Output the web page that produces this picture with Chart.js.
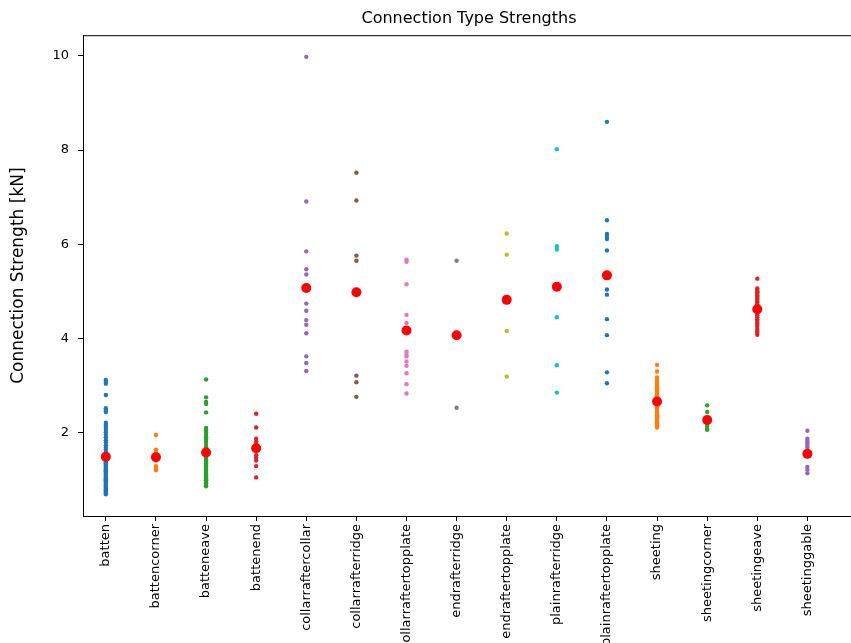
<!DOCTYPE html>
<html>
<head>
<meta charset="utf-8">
<title>Connection Type Strengths</title>
<script src="https://cdn.jsdelivr.net/npm/chart.js@4.4.0/dist/chart.umd.min.js"></script>
<style>
  html, body { margin: 0; padding: 0; background: #fff; overflow: hidden; }
  #wrap { width: 860px; height: 643px; }
</style>
</head>
<body>
<div id="wrap"><canvas id="strengthChart" width="860" height="643"></canvas></div>
<script>
"use strict";

// connection types along the x axis
const categories = ['batten', 'battencorner', 'batteneave', 'battenend', 'collarraftercollar',
    'collarrafterridge', 'collarraftertopplate', 'endrafterridge', 'endraftertopplate',
    'plainrafterridge', 'plainraftertopplate', 'sheeting', 'sheetingcorner', 'sheetingeave',
    'sheetinggable'];

// measured strengths [kN] per connection type
const batten = [3.12, 3.08, 3.04, 2.80, 2.52, 2.47, 2.44,
    2.21, 2.17, 2.12, 2.06, 2.01, 1.95, 1.90, 1.84, 1.79, 1.73, 1.68, 1.63, 1.58, 1.54, 1.50,
    1.47, 1.45, 1.42, 1.40, 1.37, 1.35, 1.32, 1.30, 1.27, 1.25, 1.22, 1.20, 1.18, 1.15, 1.13,
    1.10, 1.08, 1.06, 1.03, 1.01, 0.99, 0.96, 0.94, 0.91, 0.89, 0.87, 0.85, 0.83, 0.81, 0.79,
    0.77, 0.75, 0.73, 0.71, 0.69];
const battencorner = [1.95, 1.64, 1.59, 1.50, 1.45, 1.41, 1.29, 1.25, 1.20];
const batteneave = [3.13, 2.75, 2.65, 2.61, 2.43,
    2.10, 2.05, 2.00, 1.95, 1.90, 1.85, 1.80, 1.74, 1.69, 1.64, 1.59, 1.55, 1.51, 1.47, 1.43,
    1.39, 1.35, 1.31, 1.27, 1.23, 1.19, 1.15, 1.11, 1.10, 1.07, 1.03, 1.00, 0.99, 0.95, 0.93,
    0.92, 0.89, 0.86];
const battenend = [2.40, 2.11, 1.87, 1.82, 1.76, 1.70, 1.65, 1.52, 1.47, 1.41, 1.29, 1.05];
const collarraftercollar = [9.98, 6.91, 5.85, 5.47, 5.36, 4.74, 4.59, 4.39, 4.29, 4.11, 3.62, 3.48, 3.31];
const collarrafterridge = [7.52, 6.93, 5.76, 5.65, 3.21, 3.07, 2.76];
const collarraftertopplate = [5.67, 5.63, 5.15, 4.50, 4.33, 3.72, 3.67, 3.62, 3.51, 3.42, 3.26, 3.03, 2.83];
const endrafterridge = [5.65, 2.53];
const endraftertopplate = [6.23, 5.78, 4.16, 3.19];
const plainrafterridge = [8.02, 5.96, 5.89, 4.45, 3.43, 2.85];
const plainraftertopplate = [8.60, 6.51, 6.22, 6.16, 6.11, 5.87, 5.04, 4.93, 4.41, 4.07, 3.28, 3.05];
const sheeting = [3.44, 3.30, 3.17, 3.12, 3.08, 3.04, 3.00, 2.96, 2.92, 2.88, 2.84, 2.80,
    2.77, 2.74, 2.71, 2.68, 2.65, 2.62, 2.59, 2.56, 2.53, 2.50, 2.48, 2.45, 2.42, 2.40, 2.37,
    2.35, 2.32, 2.30, 2.27, 2.25, 2.22, 2.20, 2.17, 2.15, 2.13, 2.11];
const sheetingcorner = [2.58, 2.44, 2.30, 2.25, 2.17, 2.13, 2.08, 2.06];
const sheetingeave = [5.27, 5.06, 5.03, 5.00, 4.98, 4.95, 4.92, 4.89, 4.86, 4.83, 4.79,
    4.76, 4.72, 4.69, 4.65, 4.61, 4.57, 4.53, 4.49, 4.45, 4.41, 4.37, 4.33, 4.29, 4.25, 4.20,
    4.16, 4.12, 4.08];
const sheetinggable = [2.04, 1.87, 1.82, 1.77, 1.72, 1.68, 1.60, 1.50, 1.27, 1.21, 1.14];

// mean strength per type (red markers)
const means = [1.49, 1.48, 1.58, 1.67, 5.07, 4.98, 4.17, 4.07, 4.82, 5.10, 5.34, 2.66, 2.27, 4.62, 1.55];

const yTicks = [2, 4, 6, 8, 10];

const series = [batten, battencorner, batteneave, battenend, collarraftercollar,
    collarrafterridge, collarraftertopplate, endrafterridge, endraftertopplate,
    plainrafterridge, plainraftertopplate, sheeting, sheetingcorner, sheetingeave,
    sheetinggable];

// matplotlib tab10 farger
const tab10 = ['#1f77b4', '#ff7f0e', '#2ca02c', '#d62728', '#9467bd',
    '#8c564b', '#e377c2', '#7f7f7f', '#bcbd22', '#17becf'];

const fontFamily = '"DejaVu Sans", sans-serif';

// ett dataset per kategori + medelvarden
let datasets = series.map((values, i) => ({
    label: categories[i],
    data: values.map(v => ({ x: i, y: v })),
    backgroundColor: tab10[i % 10],
    borderWidth: 0,
    pointRadius: 2.2,
    order: 1
}));

datasets.push({
    label: 'mean',
    data: means.map((v, i) => ({ x: i, y: v })),
    backgroundColor: '#ff0000',
    borderWidth: 0,
    pointRadius: 5,
    order: 0
});

// ram runt diagramytan
const framePlugin = {
    id: 'frame',
    afterDraw(chart) {
        const { ctx, chartArea } = chart;
        ctx.save();
        ctx.strokeStyle = '#000';
        ctx.lineWidth = 1;
        ctx.strokeRect(chartArea.left + 0.5, chartArea.top + 0.5,
            chartArea.right - chartArea.left, chartArea.bottom - chartArea.top);
        ctx.restore();
    }
};

const chartEl = document.getElementById('strengthChart');

new Chart(chartEl, {
    type: 'scatter',
    data: { datasets: datasets },
    options: {
        responsive: false,
        animation: false,
        layout: { padding: 0 },
        plugins: {
            legend: { display: false },
            tooltip: { enabled: false },
            title: {
                display: true,
                text: 'Connection Type Strengths',
                fullSize: false,
                color: '#000',
                font: { family: fontFamily, size: 16, weight: 'normal' },
                padding: { top: 9, bottom: 7 }
            }
        },
        scales: {
            x: {
                type: 'linear',
                min: -0.456,
                max: 14.95,
                afterBuildTicks: axis => { axis.ticks = categories.map((c, i) => ({ value: i })); },
                afterFit: axis => { axis.height = 127; },
                grid: { drawOnChartArea: false, drawTicks: true, tickLength: 5, color: '#000' },
                border: { color: '#000' },
                ticks: {
                    autoSkip: false,
                    minRotation: 90,
                    maxRotation: 90,
                    padding: 3,
                    color: '#000',
                    font: { family: fontFamily, size: 13 },
                    callback: v => categories[v]
                }
            },
            y: {
                min: 0.23,
                max: 10.44,
                afterBuildTicks: axis => { axis.ticks = yTicks.map(v => ({ value: v })); },
                afterFit: axis => { axis.width = 83; },
                grid: { drawOnChartArea: false, drawTicks: true, tickLength: 5, color: '#000' },
                border: { color: '#000' },
                ticks: {
                    padding: 9,
                    color: '#000',
                    font: { family: fontFamily, size: 13 }
                },
                title: {
                    display: true,
                    text: 'Connection Strength [kN]',
                    color: '#000',
                    font: { family: fontFamily, size: 17 },
                    padding: { top: 8, bottom: 0 }
                }
            }
        }
    },
    plugins: [framePlugin]
});
</script>
</body>
</html>
